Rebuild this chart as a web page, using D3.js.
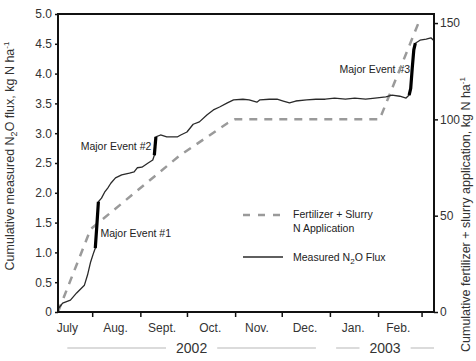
<!DOCTYPE html>
<html>
<head>
<meta charset="utf-8">
<script src="https://cdn.jsdelivr.net/npm/d3@7"></script>
<style>
  body { margin: 0; background: #fff; }
  svg { display: block; }
  text { font-family: "Liberation Sans", Arial, Helvetica, sans-serif; }
</style>
</head>
<body>
<svg id="chart" width="476" height="361"></svg>
<script>
// Cumulative measured N2O flux (kg N/ha), left axis
const fluxDates = [
  "2002-07-10","2002-07-13","2002-07-18","2002-07-22","2002-07-27","2002-07-29","2002-07-31",
  "2002-08-02","2002-08-03","2002-08-04","2002-08-05","2002-08-07","2002-08-09","2002-08-11","2002-08-13",
  "2002-08-16","2002-08-20","2002-08-25","2002-08-28","2002-08-30","2002-09-02","2002-09-06",
  "2002-09-09","2002-09-10","2002-09-11","2002-09-14","2002-09-18","2002-09-25","2002-09-27",
  "2002-10-01","2002-10-05","2002-10-09","2002-10-14","2002-10-18","2002-10-22","2002-10-27",
  "2002-10-31","2002-11-06","2002-11-10","2002-11-15","2002-11-17","2002-11-23","2002-11-28",
  "2002-12-02","2002-12-06","2002-12-10","2002-12-17","2002-12-23","2002-12-29","2003-01-04",
  "2003-01-11","2003-01-17","2003-01-24","2003-01-30","2003-02-06","2003-02-10","2003-02-15",
  "2003-02-19","2003-02-21","2003-02-22","2003-02-23","2003-02-24","2003-02-25","2003-02-28",
  "2003-03-04","2003-03-07","2003-03-09"
];
const fluxValues = [
  0.05,0.15,0.20,0.32,0.45,0.62,0.84,
  1.00,1.07,1.45,1.85,1.91,2.01,2.08,2.16,
  2.25,2.30,2.33,2.35,2.42,2.43,2.50,
  2.55,2.63,2.94,2.97,2.94,2.94,2.97,
  3.02,3.15,3.19,3.31,3.39,3.44,3.51,
  3.56,3.57,3.56,3.52,3.56,3.57,3.57,
  3.54,3.51,3.54,3.56,3.57,3.57,3.59,
  3.57,3.59,3.57,3.59,3.61,3.64,3.62,
  3.59,3.64,3.75,4.09,4.40,4.51,4.56,
  4.58,4.60,4.55
];

// Cumulative fertilizer + slurry N application (kg N/ha), right axis
const fertDates  = ["2002-07-10","2002-07-31","2002-09-26","2002-10-27","2002-11-01","2003-02-02","2003-02-27"];
const fertValues = [0, 43, 81, 98, 100, 100, 150];

// Major flux events (drawn heavier over the flux line)
const eventStarts = ["2002-08-03","2002-09-10","2003-02-21"];
const eventEnds   = ["2002-08-05","2002-09-11","2003-02-25"];
const eventLabels = ["Major Event #1","Major Event #2","Major Event #3"];

// Axis ticks and labels
const monthTicks  = ["2002-08-01","2002-09-01","2002-10-01","2002-11-01","2002-12-01","2003-01-01","2003-02-01","2003-03-01"];
const monthLabels = ["July","Aug.","Sept.","Oct.","Nov.","Dec.","Jan.","Feb."];
const monthMids   = ["2002-07-16","2002-08-16","2002-09-15","2002-10-16","2002-11-15","2002-12-16","2003-01-16","2003-02-14"];
const leftTicks   = [0,0.5,1.0,1.5,2.0,2.5,3.0,3.5,4.0,4.5,5.0];
const rightTicks  = [0,50,100,150];
const yearLabels  = ["2002","2003"];
const yearStarts  = ["2002-07-16","2003-01-05"];
const yearEnds    = ["2002-12-23","2003-03-09"];

const parse = d3.timeParse("%Y-%m-%d");
const W = 476, H = 361;
const margin = { top: 14, right: 42, bottom: 49, left: 58 };
const x0 = margin.left, x1 = W - margin.right;
const y0 = H - margin.bottom, y1 = margin.top;

const x = d3.scaleTime().domain([parse("2002-07-10"), parse("2003-03-09")]).range([x0, x1]);
const yL = d3.scaleLinear().domain([0, 5]).range([y0, y1]);
const yR = d3.scaleLinear().domain([0, 154.7]).range([y0, y1]);

const svg = d3.select("#chart");
svg.append("rect").attr("width", W).attr("height", H).attr("fill", "#fff");

const flux = fluxDates.map((d, i) => ({ date: parse(d), v: fluxValues[i] }));
const fert = fertDates.map((d, i) => ({ date: parse(d), v: fertValues[i] }));

// Axes
const tickColor = "#111", labelColor = "#333";
const gL = svg.append("g").attr("transform", `translate(${x0},0)`)
  .call(d3.axisLeft(yL).tickValues(leftTicks).tickSize(3).tickPadding(3)
    .tickFormat(d => d === 0 ? "0" : d3.format(".1f")(d)));
const gR = svg.append("g").attr("transform", `translate(${x1},0)`)
  .call(d3.axisRight(yR).tickValues(rightTicks).tickSize(4).tickPadding(2));
const gB = svg.append("g").attr("transform", `translate(0,${y0})`)
  .call(d3.axisBottom(x).tickValues(monthTicks.map(parse)).tickSize(5).tickFormat(""));
[gL, gR, gB].forEach(g => {
  g.select(".domain").remove();
  g.selectAll(".tick line").attr("stroke", tickColor).attr("stroke-width", 1.5);
  g.selectAll(".tick text").attr("fill", labelColor)
    .style("font-size", "12px").style("font-family", "'Liberation Sans', Arial, sans-serif");
});

// Month names centred within each month
svg.append("g").selectAll("text").data(monthLabels).join("text")
  .attr("x", (d, i) => x(parse(monthMids[i])))
  .attr("y", 332)
  .attr("text-anchor", "middle")
  .attr("fill", labelColor)
  .style("font-size", "12px")
  .text(d => d);

// Year labels with rules either side
yearLabels.forEach((lab, i) => {
  const xa = x(parse(yearStarts[i])), xb = x(parse(yearEnds[i]));
  const cx = (xa + xb) / 2, yy = 348;
  const t = svg.append("text").attr("x", cx).attr("y", yy + 5)
    .attr("text-anchor", "middle").attr("fill", labelColor)
    .style("font-size", "14px").text(lab);
  const half = t.node().getComputedTextLength() / 2 + 10;
  svg.append("line").attr("x1", xa).attr("x2", cx - half).attr("y1", yy).attr("y2", yy)
    .attr("stroke", "#cfcfcf").attr("stroke-width", 1.5);
  svg.append("line").attr("x1", cx + half).attr("x2", xb).attr("y1", yy).attr("y2", yy)
    .attr("stroke", "#cfcfcf").attr("stroke-width", 1.5);
});

// Axis titles
const leftTitle = svg.append("text")
  .attr("transform", `translate(14,156) rotate(-90)`)
  .attr("text-anchor", "middle").attr("fill", labelColor).style("font-size", "12.5px");
leftTitle.append("tspan").text("Cumulative measured N");
leftTitle.append("tspan").attr("dy", 3).style("font-size", "9px").text("2");
leftTitle.append("tspan").attr("dy", -3).text("O flux, kg N ha");
leftTitle.append("tspan").attr("dy", -5).style("font-size", "8px").text("-1");

const rightTitle = svg.append("text")
  .attr("transform", `translate(470,352) rotate(-90)`)
  .attr("text-anchor", "start").attr("fill", labelColor).style("font-size", "12.5px");
rightTitle.append("tspan").text("Cumulative fertilizer + slurry application, kg N ha");
rightTitle.append("tspan").attr("dy", -5).style("font-size", "8px").text("-1");

// Event annotations
const evMid = i => {
  const a = parse(eventStarts[i]), b = parse(eventEnds[i]);
  const pts = flux.filter(p => p.date >= a && p.date <= b);
  return { x: x(a), xe: x(b), ya: yL(pts[0].v), yb: yL(pts[pts.length - 1].v) };
};
const annStyle = s => s.attr("fill", "#222").style("font-size", "10.5px");
let e = evMid(0);
annStyle(svg.append("text").attr("x", e.xe + 2).attr("y", (e.ya + e.yb) / 2 + 12).text(eventLabels[0]));
e = evMid(1);
annStyle(svg.append("text").attr("x", e.x - 3).attr("y", (e.ya + e.yb) / 2 + 4)
  .attr("text-anchor", "end").text(eventLabels[1]));
e = evMid(2);
annStyle(svg.append("text").attr("x", e.x + 1).attr("y", (e.ya + e.yb) / 2 + 4)
  .attr("text-anchor", "end").text(eventLabels[2]));

// Fertilizer + slurry application (dashed)
svg.append("path").datum(fert)
  .attr("d", d3.line().x(d => x(d.date)).y(d => yR(d.v)))
  .attr("fill", "none").attr("stroke", "#9a9a9a").attr("stroke-width", 2.5)
  .attr("stroke-dasharray", "8,7");

// Measured flux
svg.append("path").datum(flux)
  .attr("d", d3.line().x(d => x(d.date)).y(d => yL(d.v)))
  .attr("fill", "none").attr("stroke", "#2a2a2a").attr("stroke-width", 1.3)
  .attr("stroke-linejoin", "round");

// Major events, heavier stroke
eventStarts.forEach((s, i) => {
  const a = parse(s), b = parse(eventEnds[i]);
  svg.append("path").datum(flux.filter(p => p.date >= a && p.date <= b))
    .attr("d", d3.line().x(d => x(d.date)).y(d => yL(d.v)))
    .attr("fill", "none").attr("stroke", "#000").attr("stroke-width", 3.2);
});

// Frame
svg.append("rect").attr("x", x0).attr("y", y1).attr("width", x1 - x0).attr("height", y0 - y1)
  .attr("fill", "none").attr("stroke", "#111").attr("stroke-width", 2);

// Legend
const lg = svg.append("g");
lg.append("line").attr("x1", 243).attr("x2", 283).attr("y1", 215).attr("y2", 215)
  .attr("stroke", "#9a9a9a").attr("stroke-width", 2.5).attr("stroke-dasharray", "7,8");
lg.append("text").attr("x", 293).attr("y", 218).attr("fill", "#222").style("font-size", "10.5px")
  .text("Fertilizer + Slurry");
lg.append("text").attr("x", 293).attr("y", 232).attr("fill", "#222").style("font-size", "10.5px")
  .text("N Application");
lg.append("line").attr("x1", 243).attr("x2", 283).attr("y1", 257).attr("y2", 257)
  .attr("stroke", "#2a2a2a").attr("stroke-width", 1.5);
const lt = lg.append("text").attr("x", 293).attr("y", 261).attr("fill", "#222").style("font-size", "10.5px");
lt.append("tspan").text("Measured N");
lt.append("tspan").attr("dy", 3).style("font-size", "8px").text("2");
lt.append("tspan").attr("dy", -3).text("O Flux");
</script>
</body>
</html>
